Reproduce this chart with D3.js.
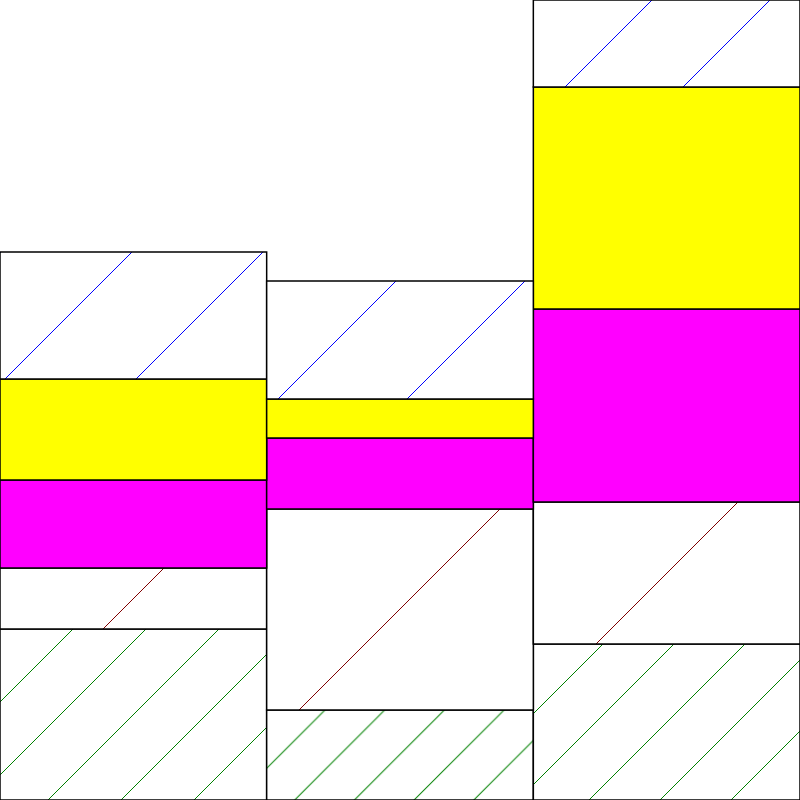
<!DOCTYPE html>
<html>
<head>
<meta charset="utf-8">
<script src="https://cdn.jsdelivr.net/npm/d3@7"></script>
<style>
  html, body { margin: 0; padding: 0; background: #fff; }
  svg { display: block; }
</style>
</head>
<body>
<div id="chart"></div>
<script>
// ---- data ----
const categories = ["A", "B", "C"];
const seriesKeys = ["s1", "s2", "s3", "s4", "s5"];
const s1 = [171, 90, 156];
const s2 = [61, 201, 142];
const s3 = [88, 71, 193];
const s4 = [101, 39, 222];
const s5 = [127, 118, 87];
const yMax = 800;

// ---- styles ----
const solidFill = { s3: "#ff00ff", s4: "#ffff00" };
const hatchColor = { s1: "#008000", s2: "#800000", s5: "#0000ff" };
// per-cell hatch spacing and offset (styling of the pattern)
const hatchStyle = {
  s1: [{ s: 73, c: 702 }, { s: 59.7, c: 1035 }, { s: 71, c: 1247 }],
  s2: [{ s: 400, c: 732 }, { s: 600, c: 1009 }, { s: 500, c: 1240 }],
  s5: [{ s: 131, c: 384 }, { s: 129, c: 677 }, { s: 118, c: 652 }]
};

const W = 800, H = 800;
const table = categories.map((c, i) => ({
  cat: c, s1: s1[i], s2: s2[i], s3: s3[i], s4: s4[i], s5: s5[i]
}));

const svg = d3.select("#chart").append("svg")
  .attr("width", W).attr("height", H);

const x = d3.scaleBand().domain(categories).range([0, W]).padding(0);
const y = d3.scaleLinear().domain([0, yMax]).range([H, 0]);

const stacked = d3.stack().keys(seriesKeys)(table);

const defs = svg.append("defs");
Object.keys(hatchStyle).forEach(key => {
  hatchStyle[key].forEach((hs, i) => {
    const s = hs.s;
    const p = defs.append("pattern")
      .attr("id", `hatch-${key}-${i}`)
      .attr("patternUnits", "userSpaceOnUse")
      .attr("x", ((hs.c % s) + s) % s)
      .attr("y", 0)
      .attr("width", s).attr("height", s);
    p.append("rect").attr("width", s).attr("height", s).attr("fill", "#fff");
    p.append("path")
      .attr("d", `M0,${s} L${s},0 M-2,2 L2,-2 M${s - 2},${s + 2} L${s + 2},${s - 2}`)
      .attr("stroke", hatchColor[key])
      .attr("stroke-width", 1)
      .attr("fill", "none");
  });
});

const layers = svg.append("g").selectAll("g")
  .data(stacked).join("g");

layers.selectAll("rect")
  .data(d => d.map((v, i) => ({ key: d.key, v, i })))
  .join("rect")
  .attr("x", d => x(d.v.data.cat))
  .attr("width", x.bandwidth())
  .attr("y", d => y(d.v[1]))
  .attr("height", d => y(d.v[0]) - y(d.v[1]))
  .attr("fill", d => solidFill[d.key] ? solidFill[d.key] : `url(#hatch-${d.key}-${d.i})`)
  .attr("stroke", "#000")
  .attr("stroke-width", 1.5);
</script>
</body>
</html>
